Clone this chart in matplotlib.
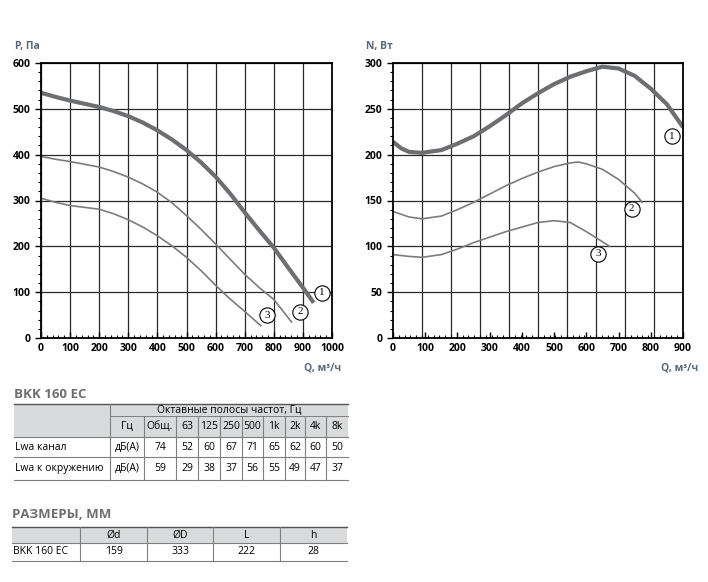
import numpy as np
import matplotlib.pyplot as plt
from matplotlib.patches import Rectangle

# P(Q) curves, left chart
q1 = [0, 50, 100, 150, 200, 250, 300, 350, 400, 450, 500, 550, 600, 650, 700, 750, 800, 850, 900, 937]
p1 = [535, 526, 518, 511, 504, 495, 484, 470, 453, 433, 410, 383, 352, 315, 274, 235, 197, 153, 110, 77]
q2 = [0, 50, 100, 150, 200, 250, 300, 350, 400, 450, 500, 550, 600, 650, 700, 750, 800, 861]
p2 = [396, 390, 385, 379, 373, 363, 351, 336, 318, 295, 267, 237, 205, 172, 139, 110, 84, 35]
q3 = [0, 50, 100, 150, 200, 250, 300, 350, 400, 450, 500, 550, 600, 650, 700, 755]
p3 = [305, 296, 289, 285, 281, 271, 258, 242, 223, 201, 176, 147, 115, 85, 58, 27]

# N(Q) curves, right chart
nq1 = [0, 25, 50, 90, 150, 200, 250, 300, 350, 400, 450, 500, 550, 600, 650, 700, 750, 800, 850, 900]
n1 = [214, 207, 203, 202, 205, 212, 220, 231, 243, 256, 267, 277, 285, 291, 296, 294, 286, 272, 255, 230]
nq2 = [0, 50, 90, 150, 200, 250, 300, 350, 400, 450, 500, 550, 575, 600, 650, 700, 750, 773]
n2 = [138, 132, 130, 133, 140, 148, 157, 166, 174, 181, 187, 191, 192, 190, 184, 173, 158, 148]
nq3 = [0, 50, 90, 150, 200, 250, 300, 350, 400, 450, 500, 550, 600, 650, 672]
n3 = [91, 89, 88, 91, 97, 104, 110, 116, 121, 126, 128, 126, 116, 105, 100]

speeds = ["1. n=3300 об./мин", "2. n=2850 об./мин", "3. n=2500 об./мин"]

# noise table
oct_head = ["Гц", "Общ.", "63", "125", "250", "500", "1k", "2k", "4k", "8k"]
row_names = ["Lwa канал", "Lwa к окружению"]
lwa_duct = [74, 52, 60, 67, 71, 65, 62, 60, 50]
lwa_env = [59, 29, 38, 37, 56, 55, 49, 47, 37]

# dimensions table
dim_head = ["Ød", "ØD", "L", "h"]
dim_vals = [159, 333, 222, 28]

W, H = 708, 582
plt.rcParams['font.family'] = ['Open Sans', 'DejaVu Sans']
fig = plt.figure(figsize=(W / 100, H / 100), dpi=100)

bg = fig.add_axes([0, 0, 1, 1])
bg.set_xlim(0, W)
bg.set_ylim(H, 0)
bg.axis('off')


def px_axes(x0, y0, x1, y1):
    return fig.add_axes([x0 / W, 1 - y1 / H, (x1 - x0) / W, (y1 - y0) / H])


thick = dict(color='#6d6e71', lw=3.0, solid_capstyle='butt', solid_joinstyle='round')
thin = dict(color='#7b7c7e', lw=1.2, solid_joinstyle='round')
grid_col = '#2a2a2a'
lab_col = '#5a6878'


def style(ax):
    for s in ax.spines.values():
        s.set_linewidth(1.3)
        s.set_color('black')
    ax.tick_params(axis='both', which='major', labelsize=7.5, length=4, width=1)
    ax.tick_params(axis='y', which='both', direction='out')
    ax.tick_params(axis='x', which='both', direction='in')
    ax.tick_params(which='minor', length=2.5, width=0.8)
    for t in ax.get_xticklabels() + ax.get_yticklabels():
        t.set_fontweight('bold')


def circled(ax, x, y, s):
    ax.plot([x], [y], 'o', ms=11, mfc='white', mec='black', mew=0.8, clip_on=False, zorder=5)
    ax.text(x, y, s, ha='center', va='center', fontsize=8, family='Liberation Serif', zorder=6)


# left chart
ax = px_axes(41, 63, 332, 338)
ax.set_xlim(0, 1000)
ax.set_ylim(0, 600)
ax.set_xticks(np.arange(0, 1001, 100))
ax.set_yticks(np.arange(0, 601, 100))
ax.set_xticks(np.arange(0, 1001, 20), minor=True)
ax.set_yticks(np.arange(0, 601, 20), minor=True)
ax.grid(True, which='major', color=grid_col, lw=0.9)
ax.plot(q3, p3, **thin)
ax.plot(q2, p2, **thin)
ax.plot(q1, p1, **thick)
style(ax)
circled(ax, 966, 99, "1")
circled(ax, 890, 57, "2")
circled(ax, 776, 50, "3")
bg.add_patch(Rectangle((213, 75), 110, 44, fc='white', ec='black', lw=1, zorder=3))
for i, s in enumerate(speeds):
    bg.text(268, 84 + i * 14, s, ha='center', va='center', fontsize=7, fontweight='bold', zorder=4)

# right chart
ax2 = px_axes(393, 63, 683, 338)
ax2.set_xlim(0, 900)
ax2.set_ylim(0, 300)
ax2.set_xticks(np.arange(0, 901, 100))
ax2.set_yticks(np.arange(0, 301, 50))
ax2.set_xticks(np.arange(0, 901, 18), minor=True)
ax2.set_yticks(np.arange(0, 301, 10), minor=True)
ax2.grid(True, axis='y', which='major', color=grid_col, lw=0.9)
for v in np.arange(90, 900, 90):
    ax2.axvline(v, color=grid_col, lw=0.9, zorder=0.5)
ax2.plot(nq3, n3, **thin)
ax2.plot(nq2, n2, **thin)
ax2.plot(nq1, n1, **thick)
style(ax2)
circled(ax2, 865, 220, "1")
circled(ax2, 741, 141, "2")
circled(ax2, 637, 92, "3")

# axis captions
bg.text(15, 46, "P, Па", fontsize=7.5, fontweight='bold', color=lab_col, va='center')
bg.text(366, 46, "N, Вт", fontsize=7.5, fontweight='bold', color=lab_col, va='center')
bg.text(341, 368, "Q, м³/ч", fontsize=7.5, fontweight='bold', color=lab_col, va='center', ha='right')
bg.text(698, 368, "Q, м³/ч", fontsize=7.5, fontweight='bold', color=lab_col, va='center', ha='right')

# noise table
line_c = '#7f7f7f'
fill_c = '#d9dadb'
cols = [14, 110, 144, 176, 198, 220, 242, 263, 285, 305, 326, 348]
rows = [404, 416, 437, 457, 480]
bg.text(14, 395, "BKK 160 EC", fontsize=9.5, fontweight='bold', color='#6d6e71', va='center')
bg.add_patch(Rectangle((cols[0], rows[0]), cols[-1] - cols[0], rows[2] - rows[0], fc=fill_c, ec='none'))
bg.plot([cols[0], cols[-1]], [rows[0], rows[0]], color='#555555', lw=1)
bg.plot([cols[1], cols[-1]], [rows[1], rows[1]], color=line_c, lw=0.7)
for r in rows[2:]:
    bg.plot([cols[0], cols[-1]], [r, r], color=line_c, lw=0.8)
bg.plot([cols[1], cols[1]], [rows[0], rows[-1]], color=line_c, lw=0.8)
for c in cols[2:-1]:
    bg.plot([c, c], [rows[1], rows[-1]], color=line_c, lw=0.8)
fs = 7.5
bg.text((cols[1] + cols[-1]) / 2, (rows[0] + rows[1]) / 2, "Октавные полосы частот, Гц", fontsize=fs, ha='center', va='center')
for i, s in enumerate(oct_head):
    bg.text((cols[i + 1] + cols[i + 2]) / 2, (rows[1] + rows[2]) / 2, s, fontsize=fs, ha='center', va='center')
for j, (name, vals) in enumerate(zip(row_names, [lwa_duct, lwa_env])):
    yc = (rows[2 + j] + rows[3 + j]) / 2
    bg.text(cols[0] + 1, yc, name, fontsize=fs, va='center')
    bg.text((cols[1] + cols[2]) / 2, yc, "дБ(А)", fontsize=fs, ha='center', va='center')
    for i, v in enumerate(vals):
        bg.text((cols[i + 2] + cols[i + 3]) / 2, yc, str(v), fontsize=fs, ha='center', va='center')

# dimensions table
dcols = [12, 80, 147, 213, 280, 347]
drows = [527, 543, 561]
bg.text(12, 514, "РАЗМЕРЫ, ММ", fontsize=9.5, fontweight='bold', color='#6d6e71', va='center')
bg.add_patch(Rectangle((dcols[0], drows[0]), dcols[-1] - dcols[0], drows[1] - drows[0], fc=fill_c, ec='none'))
bg.plot([dcols[0], dcols[-1]], [drows[0], drows[0]], color='#555555', lw=1)
for r in drows[1:]:
    bg.plot([dcols[0], dcols[-1]], [r, r], color=line_c, lw=0.8)
for c in dcols[1:-1]:
    bg.plot([c, c], [drows[0], drows[-1]], color=line_c, lw=0.8)
bg.text(dcols[0] + 1, (drows[1] + drows[2]) / 2, "BKK 160 EC", fontsize=fs, va='center')
for i, (h, v) in enumerate(zip(dim_head, dim_vals)):
    xc = (dcols[i + 1] + dcols[i + 2]) / 2
    bg.text(xc, (drows[0] + drows[1]) / 2, h, fontsize=fs, ha='center', va='center')
    bg.text(xc, (drows[1] + drows[2]) / 2, str(v), fontsize=fs, ha='center', va='center')

fig.savefig("out.png", dpi=100)
